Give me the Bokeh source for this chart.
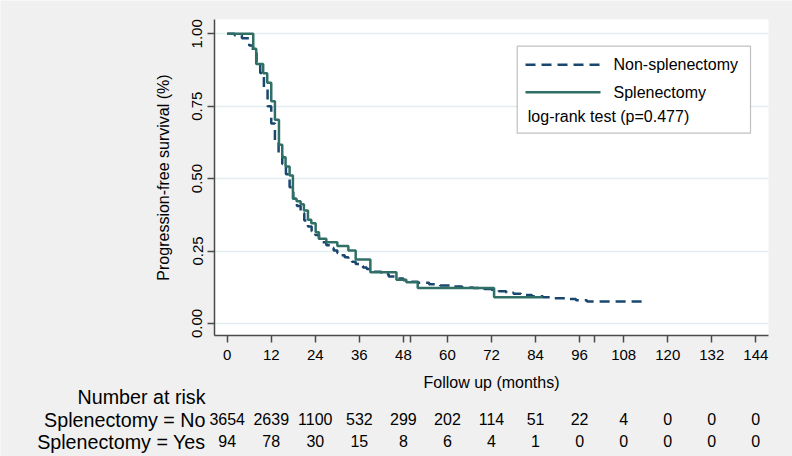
from bokeh.plotting import figure
from bokeh.models import FixedTicker, PrintfTickFormatter, BoxAnnotation, Range1d
from bokeh.core.properties import value
from bokeh.embed import file_html
from bokeh.resources import INLINE

# ---------------- data ----------------
# Non-splenectomy KM step function (time in months, survival after step)
non_t = [0, 2, 4, 6, 7, 8, 9, 10, 11, 12, 13, 14, 15, 16, 17, 18, 19, 20, 21, 22, 23, 24,
         25, 26, 27, 28, 29, 30, 31, 32, 33, 34, 35, 36, 37, 38, 39, 40, 42, 44, 46, 48,
         50, 52, 55, 58, 61, 64, 67, 70, 72, 74, 76, 78, 80, 83, 86, 89, 92, 95, 98, 113]
non_s = [1.0, 0.995, 0.985, 0.96, 0.94, 0.905, 0.865, 0.81, 0.75, 0.69, 0.63, 0.59, 0.55,
         0.515, 0.47, 0.43, 0.405, 0.38, 0.355, 0.335, 0.318, 0.305, 0.292, 0.28, 0.27,
         0.26, 0.252, 0.243, 0.235, 0.228, 0.22, 0.213, 0.205, 0.198, 0.193, 0.188, 0.183,
         0.178, 0.17, 0.162, 0.155, 0.149, 0.144, 0.14, 0.135, 0.131, 0.127, 0.124, 0.122,
         0.119, 0.116, 0.111, 0.106, 0.102, 0.098, 0.094, 0.09, 0.087, 0.084, 0.08, 0.076,
         0.076]

# Splenectomy KM step function
spl_t = [0, 7.1, 7.9, 9.8, 10.9, 12.0, 13.0, 14.1, 15.0, 15.9, 17.0, 17.9, 18.9, 20.0,
         20.9, 22.0, 22.9, 24.1, 25.0, 27.0, 30.0, 33.0, 35.0, 39.0, 46.1, 48.8, 51.9,
         72.7, 85.9]
spl_s = [1.0, 0.948, 0.896, 0.864, 0.831, 0.767, 0.703, 0.617, 0.574, 0.542, 0.511, 0.43,
         0.422, 0.411, 0.39, 0.358, 0.346, 0.315, 0.292, 0.28, 0.267, 0.252, 0.221, 0.177,
         0.151, 0.142, 0.122, 0.09, 0.09]

x_ticks = [0, 12, 24, 36, 48, 60, 72, 84, 96, 108, 120, 132, 144]
x_minor = [50, 100]
y_ticks = [0.0, 0.25, 0.5, 0.75, 1.0]

risk_no = [3654, 2639, 1100, 532, 299, 202, 114, 51, 22, 4, 0, 0, 0]
risk_yes = [94, 78, 30, 15, 8, 6, 4, 1, 0, 0, 0, 0, 0]

NAVY = "#1a476f"
GREEN = "#2f6f66"
FONT = "Liberation Sans"
BG = "#f0f0f0"
AXC = "#4a4a4a"

W, H = 792, 456
# plot-area box in page pixels
PL, PR, PT, PB = 214, 768, 19, 335


# page-pixel -> data helpers (placement of annotations / frame)
def dx(px):
    return (px - 226.7) / 3.671


def dy(py):
    return (322.9 - py) / 289.6


# frame covers the whole canvas; axes are pinned with fixed_location
p = figure(width=W, height=H, output_backend="svg", toolbar_location=None,
           x_range=Range1d(dx(0), dx(W)), y_range=Range1d(dy(H), dy(0)),
           min_border_left=0, min_border_right=0, min_border_top=0, min_border_bottom=0)
p.background_fill_color = BG
p.border_fill_color = BG
p.outline_line_color = None

# white plot area
p.add_layout(BoxAnnotation(left=dx(PL), right=dx(PR), top=dy(PT), bottom=dy(PB),
                           fill_color="white", fill_alpha=1.0, line_color=None,
                           level="image"))

p.xgrid.grid_line_color = None
p.ygrid.grid_line_color = "#e4eef0"
p.ygrid.grid_line_width = 1.5
p.ygrid.ticker = FixedTicker(ticks=y_ticks)
p.ygrid.cross_bounds = (dx(PL), dx(PR))

for ax in (p.xaxis[0], p.yaxis[0]):
    ax.axis_line_color = AXC
    ax.axis_line_width = 1.5
    ax.major_tick_line_color = AXC
    ax.major_tick_line_width = 1.5
    ax.major_tick_out = 7
    ax.major_tick_in = 0
    ax.major_label_text_font = FONT
    ax.major_label_text_font_size = "15px"
    ax.major_label_text_color = "black"
    ax.axis_label_text_font = FONT
    ax.axis_label_text_font_size = "16px"
    ax.axis_label_text_font_style = "normal"
    ax.axis_label_text_color = "black"

p.xaxis.fixed_location = dy(PB)
p.xaxis.bounds = (dx(PL), dx(PR))
p.xaxis.ticker = FixedTicker(ticks=x_ticks, minor_ticks=x_minor)
p.xaxis.minor_tick_out = 7
p.xaxis.minor_tick_in = 0
p.xaxis.minor_tick_line_color = AXC
p.xaxis.minor_tick_line_width = 1.5
p.xaxis.major_label_standoff = 7
p.xaxis.axis_label = "Follow up (months)"
p.xaxis.axis_label_standoff = 11

p.yaxis.fixed_location = dx(PL)
p.yaxis.bounds = (dy(PB), dy(PT))
p.yaxis.ticker = FixedTicker(ticks=y_ticks)
p.yaxis.minor_tick_line_color = None
p.yaxis.formatter = PrintfTickFormatter(format="%.2f")
p.yaxis.major_label_orientation = "vertical"
p.yaxis.major_label_standoff = 5
p.yaxis.axis_label = "Progression-free survival (%)"
p.yaxis.axis_label_standoff = 18

# curves
p.step(non_t, non_s, mode="after", line_color=NAVY, line_width=2.5, line_dash="10 6")
p.step(spl_t, spl_s, mode="after", line_color=GREEN, line_width=2.5)

# legend box (manual)
p.add_layout(BoxAnnotation(left=dx(516.7), right=dx(750), top=dy(45.7), bottom=dy(132.7),
                           fill_color="white", fill_alpha=1.0,
                           line_color="#333333", line_width=1.2))
r1 = p.line([dx(525), dx(600)], [dy(64.3), dy(64.3)], line_color=NAVY, line_width=2.5,
            line_dash="10 6")
r2 = p.line([dx(525), dx(600)], [dy(91.7), dy(91.7)], line_color=GREEN, line_width=2.5)
r1.level = "overlay"
r2.level = "overlay"


def txt(xs, base_px, texts, size, align, level="glyph"):
    # base_px: desired baseline in page pixels; the renderer draws text ~0.37em lower
    px = float(size.replace("px", ""))
    yy = dy(base_px - 0.37 * px)
    r = p.text(x=xs, y=[yy] * len(xs), text=texts, text_font=value(FONT),
               text_font_size=value(size), text_align=align, text_baseline="alphabetic",
               text_color="black")
    r.level = level
    return r


txt([dx(613)], 70, ["Non-splenectomy"], "16px", "left", "overlay")
txt([dx(613)], 98.3, ["Splenectomy"], "16px", "left", "overlay")
txt([dx(527.3)], 121.7, ["log-rank test (p=0.477)"], "16px", "left", "overlay")

# number at risk table
txt([dx(205)], 403.3, ["Number at risk"], "19.7px", "right")
txt([dx(205)], 426.7, ["Splenectomy = No"], "19.7px", "right")
txt([dx(205)], 448.3, ["Splenectomy = Yes"], "19.7px", "right")
txt(x_ticks, 424, [str(n) for n in risk_no], "16px", "center")
txt(x_ticks, 446, [str(n) for n in risk_yes], "16px", "center")

open("out.html", "w").write(file_html(p, INLINE))
